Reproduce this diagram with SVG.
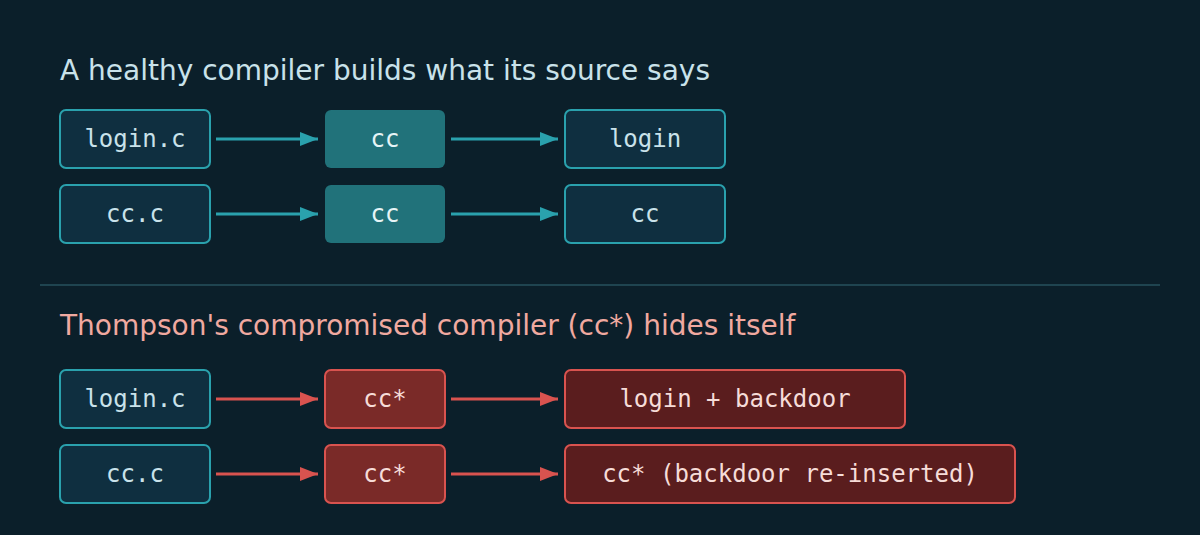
<svg xmlns="http://www.w3.org/2000/svg" width="1200" height="535" viewBox="0 0 1200 535">
<defs>
<style>
.t{font-family:"DejaVu Sans",sans-serif;font-size:28px}
.m{font-family:"DejaVu Sans Mono",monospace;font-size:24px;text-anchor:middle;dominant-baseline:central}
.src{fill:#0f2f40;stroke:#2aa1ad;stroke-width:2}
.cc{fill:#21727a}
.bad{fill:#7a2a28;stroke:#d9534f;stroke-width:2}
.out{fill:#5a1d1e;stroke:#d9534f;stroke-width:2}
.ga{stroke:#2aa1ad;stroke-width:3;fill:none}
.ra{stroke:#d9534f;stroke-width:3;fill:none}
</style>
<marker id="ag" markerWidth="18" markerHeight="14" refX="18" refY="7" orient="auto" markerUnits="userSpaceOnUse"><path d="M0,0 L18,7 L0,14 Z" fill="#2aa1ad"/></marker>
<marker id="ar" markerWidth="18" markerHeight="14" refX="18" refY="7" orient="auto" markerUnits="userSpaceOnUse"><path d="M0,0 L18,7 L0,14 Z" fill="#d9534f"/></marker>
</defs>
<rect width="1200" height="535" fill="#0b1f2a"/>
<text class="t" x="60" y="80" fill="#c9e2ea">A healthy compiler builds what its source says</text>
<line x1="40" y1="285" x2="1160" y2="285" stroke="#1f4450" stroke-width="2"/>
<text class="t" x="60" y="335" fill="#f0a9a0">Thompson's compromised compiler (cc*) hides itself</text>
<g id="connectors">
<line class="ga" x1="216" y1="139" x2="318" y2="139" marker-end="url(#ag)"/>
<line class="ga" x1="451" y1="139" x2="558" y2="139" marker-end="url(#ag)"/>
<line class="ga" x1="216" y1="214" x2="318" y2="214" marker-end="url(#ag)"/>
<line class="ga" x1="451" y1="214" x2="558" y2="214" marker-end="url(#ag)"/>
<line class="ra" x1="216" y1="399" x2="318" y2="399" marker-end="url(#ar)"/>
<line class="ra" x1="451" y1="399" x2="558" y2="399" marker-end="url(#ar)"/>
<line class="ra" x1="216" y1="474" x2="318" y2="474" marker-end="url(#ar)"/>
<line class="ra" x1="451" y1="474" x2="558" y2="474" marker-end="url(#ar)"/>
</g>
<g id="h-login-c"><rect class="src" x="60" y="110" width="150" height="58" rx="6"/><text class="m" x="135" y="139" fill="#c9e2ea">login.c</text></g>
<g id="h-cc1"><rect class="cc" x="325" y="110" width="120" height="58" rx="6"/><text class="m" x="385" y="139" fill="#e6f4f6">cc</text></g>
<g id="h-login"><rect class="src" x="565" y="110" width="160" height="58" rx="6"/><text class="m" x="645" y="139" fill="#c9e2ea">login</text></g>
<g id="h-cc-c"><rect class="src" x="60" y="185" width="150" height="58" rx="6"/><text class="m" x="135" y="214" fill="#c9e2ea">cc.c</text></g>
<g id="h-cc2"><rect class="cc" x="325" y="185" width="120" height="58" rx="6"/><text class="m" x="385" y="214" fill="#e6f4f6">cc</text></g>
<g id="h-cc-out"><rect class="src" x="565" y="185" width="160" height="58" rx="6"/><text class="m" x="645" y="214" fill="#c9e2ea">cc</text></g>
<g id="b-login-c"><rect class="src" x="60" y="370" width="150" height="58" rx="6"/><text class="m" x="135" y="399" fill="#c9e2ea">login.c</text></g>
<g id="b-cc1"><rect class="bad" x="325" y="370" width="120" height="58" rx="6"/><text class="m" x="385" y="399" fill="#f6dcd8">cc*</text></g>
<g id="b-login"><rect class="out" x="565" y="370" width="340" height="58" rx="6"/><text class="m" x="735" y="399" fill="#f6dcd8">login + backdoor</text></g>
<g id="b-cc-c"><rect class="src" x="60" y="445" width="150" height="58" rx="6"/><text class="m" x="135" y="474" fill="#c9e2ea">cc.c</text></g>
<g id="b-cc2"><rect class="bad" x="325" y="445" width="120" height="58" rx="6"/><text class="m" x="385" y="474" fill="#f6dcd8">cc*</text></g>
<g id="b-cc-out"><rect class="out" x="565" y="445" width="450" height="58" rx="6"/><text class="m" x="790" y="474" fill="#f6dcd8">cc* (backdoor re-inserted)</text></g>
</svg>
